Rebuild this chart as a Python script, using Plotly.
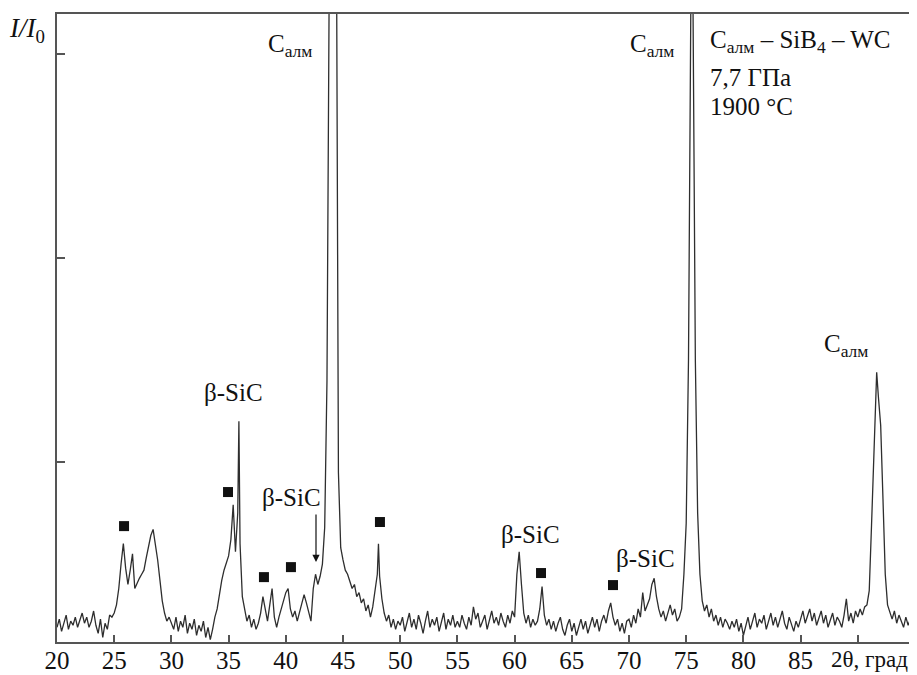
import plotly.graph_objects as go

# ---- data (2θ grid from 20.0 to 95.0, step 0.2) ----
THETA_START = 20.0
THETA_STEP = 0.2
intensity = [
    19, 23, 17, 21, 25, 18, 22, 20, 24, 19, 23, 26, 21, 24, 19, 22, 27, 20, 16, 23, 14, 21, 18, 25, 24,   # 20
    26, 30, 38, 50, 60, 48, 40, 47, 55, 38, 41, 43, 45, 47, 53, 59, 64, 67, 60, 52, 42, 32, 26, 22, 24,   # 25
    21, 18, 24, 17, 22, 19, 25, 16, 21, 18, 23, 15, 20, 17, 22, 14, 19, 13, 18, 24, 28, 36, 42, 47, 50,   # 30
    54, 62, 79, 56, 75, 60, 34, 27, 22, 25, 19, 23, 18, 21, 26, 34, 28, 22, 30, 38, 24, 19, 24, 28, 33,   # 35
    36, 38, 28, 24, 27, 22, 26, 30, 35, 31, 26, 22, 38, 45, 40, 44, 50, 68, 140, 340, 3000, 3000, 400, 95, 58,  # 40
    52, 47, 45, 41, 38, 40, 34, 36, 31, 33, 27, 30, 24, 29, 38, 45, 44, 33, 26, 22, 25, 19, 23, 18, 22,   # 45
    20, 24, 17, 22, 26, 19, 23, 18, 25, 21, 16, 22, 27, 19, 23, 20, 24, 17, 21, 26, 18, 23, 20, 25, 19,   # 50
    22, 19, 25, 21, 18, 24, 20, 29, 23, 26, 19, 22, 25, 18, 23, 27, 21, 24, 20, 26, 22, 19, 25, 21, 27,   # 55
    24, 45, 56, 40, 26, 21, 25, 19, 23, 20, 22, 28, 39, 25, 20, 23, 18, 22, 17, 21, 24, 18, 15, 20, 23,   # 60
    17, 21, 15, 19, 23, 18, 22, 16, 20, 24, 19, 23, 17, 22, 25, 21, 27, 31, 24, 20, 23, 17, 21, 16, 22,   # 65
    23, 19, 25, 21, 28, 24, 36, 27, 30, 33, 40, 43, 34, 28, 24, 27, 22, 26, 30, 25, 28, 22, 24, 28, 45,   # 70
    70, 150, 320, 320, 150, 75, 45, 32, 27, 30, 24, 28, 22, 25, 20, 24, 19, 23, 21, 18, 22, 19, 23, 17, 21,  # 75
    15, 20, 24, 18, 22, 26, 19, 23, 21, 25, 18, 22, 26, 20, 24, 19, 23, 27, 21, 18, 24, 20, 17, 22, 19,   # 80
    23, 27, 21, 25, 28, 22, 26, 20, 24, 27, 21, 25, 19, 23, 26, 20, 24, 22, 19, 25, 33, 22, 26, 21, 27,   # 85
    24, 28, 25, 29, 30, 37, 69, 102, 138, 132, 118, 82, 45, 30, 26, 23, 27, 21, 25, 22, 19, 24, 20, 23, 21,  # 90
    24,                                                                                                     # 95
]

# sharp peak apexes lying between grid points
apex_theta = [35.9, 48.1, 75.5, 91.65]
apex_intensity = [120, 60, 5000, 144]

# filled-square markers (unidentified phase)
square_theta = [25.86, 34.95, 38.09, 40.45, 48.23, 62.31, 68.6]
square_level = [68.6, 85.3, 43.6, 48.5, 70.6, 45.6, 39.7]

x_ticks = [20, 25, 30, 35, 40, 45, 50, 55, 60, 65, 70, 75, 80, 85, 90]
x_ticktext = ["20", "25", "30", "35", "40", "45", "50", "55", "60", "65", "70", "75", "80", "85", ""]
y_ticks = [100, 200, 300]

# ---- build the trace ----
grid_theta = [round(THETA_START + i * THETA_STEP, 2) for i in range(len(intensity))]
pts = sorted(list(zip(grid_theta, intensity)) + list(zip(apex_theta, apex_intensity)))
tt = [p[0] for p in pts]
ii = [p[1] for p in pts]

FONT = "Liberation Serif, Times New Roman, serif"
AX = "#555555"
TXT = "#111111"

fig = go.Figure()
fig.add_trace(go.Scatter(x=tt, y=ii, mode="lines",
                         line=dict(color="#2e2e2e", width=1.3),
                         showlegend=False, hoverinfo="skip"))
fig.add_trace(go.Scatter(x=square_theta, y=square_level, mode="markers",
                         marker=dict(symbol="square", size=10, color=TXT),
                         showlegend=False, hoverinfo="skip"))

ann = []
def txt(x, y, s, size=25, xanchor="center", yanchor="middle", xref="x", yref="y"):
    ann.append(dict(x=x, y=y, xref=xref, yref=yref, text=s, showarrow=False,
                    xanchor=xanchor, yanchor=yanchor,
                    font=dict(family=FONT, size=size, color=TXT)))

calm = "C<sub>алм</sub>"
txt(40.4, 304, calm)
txt(72.0, 304, calm)
txt(89.0, 157, calm)
txt(76.9, 306, "C<sub>алм</sub> – SiB<sub>4</sub> – WC", xanchor="left")
txt(76.9, 288.5, "7,7 ГПа", xanchor="left")
txt(76.9, 274.5, "1900 °C", xanchor="left")
txt(35.47, 134.3, "β-SiC")
txt(40.54, 82.4, "β-SiC")
txt(61.43, 64.7, "β-SiC")
txt(71.4, 52.9, "β-SiC")
# axis titles
txt(87.5, -0.0515, "2θ, град", size=23, xanchor="left", yanchor="bottom", yref="paper")
txt(-0.012, 0.975, "<i>I/I</i><sub>0</sub>", size=27, xanchor="right", xref="paper", yref="paper")

# arrow for second β-SiC
ann.append(dict(x=42.64, y=51, ax=42.64, ay=75, xref="x", yref="y", axref="x", ayref="y",
                showarrow=True, arrowhead=2, arrowsize=1.2, arrowwidth=1.2, arrowcolor=TXT,
                text=""))

# the page body adds an 8px offset, so the figure is sized to fit the 917x675 window
fig.update_layout(
    width=909, height=667,
    margin=dict(l=49, r=2, t=6, b=33, autoexpand=False),
    paper_bgcolor="white", plot_bgcolor="white",
    annotations=ann,
    font=dict(family=FONT, size=25, color=TXT),
)
fig.update_xaxes(range=[20, 95], tickmode="array", tickvals=x_ticks, ticktext=x_ticktext,
                 ticks="inside", ticklen=7, tickwidth=1.5, tickcolor=AX,
                 showline=True, linecolor=AX, linewidth=1.5, mirror=True,
                 showgrid=False, zeroline=False, automargin=False,
                 tickfont=dict(family=FONT, size=25, color=TXT), ticklabelstandoff=-5)
fig.update_yaxes(range=[11.8, 319.6], tickmode="array", tickvals=y_ticks,
                 showticklabels=False, automargin=False,
                 ticks="inside", ticklen=8, tickwidth=1.5, tickcolor=AX,
                 showline=True, linecolor=AX, linewidth=1.5, mirror=True,
                 showgrid=False, zeroline=False)

fig.write_html("out.html")
